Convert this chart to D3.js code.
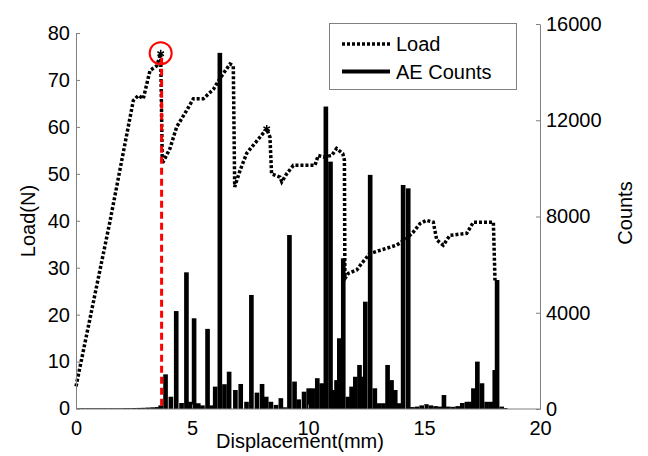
<!DOCTYPE html>
<html>
<head>
<meta charset="utf-8">
<script src="https://cdn.jsdelivr.net/npm/d3@7"></script>
<style>
  html, body { margin: 0; padding: 0; background: #fff; }
  svg { display: block; font-family: "Liberation Sans", Arial, sans-serif; }
</style>
</head>
<body>
<svg id="chart" width="648" height="456"></svg>
<script>
// LOAD CURVE (displacement mm, load N)
const loadDisp = [0, 1.47, 2.47, 2.69, 2.9, 3.19, 3.48, 3.65, 3.72, 4.05, 4.34, 4.77, 5.06, 5.49, 5.92,
  6.2, 6.64, 6.78, 6.84, 7.07, 7.36, 7.93, 8.22, 8.36, 8.43, 8.79, 8.87, 9.08, 9.37, 10.3, 10.44,
  10.66, 11.02, 11.23, 11.5, 11.57, 11.59, 11.74, 12.1, 12.31, 12.67, 13.1, 13.82, 14.25, 14.54,
  14.83, 15.1, 15.4, 15.55, 15.83, 16.12, 16.84, 17.13, 17.99, 18.06];
const loadForce = [4.7, 40, 65.6, 66.7, 66, 72, 73, 75.6, 52.2, 55.4, 60, 63.5, 66, 66, 68,
  70.3, 73.4, 73, 47.2, 50.7, 54.4, 57.8, 59.6, 57.8, 50, 49.3, 48.3, 50, 51.8, 51.8, 53.9,
  53.6, 53.9, 55.4, 54.3, 52.9, 27.7, 28.8, 29.5, 30.9, 33, 33.7, 34.8, 36.2, 37.6,
  39.4, 40.1, 39.7, 35.9, 34.8, 36.9, 37.3, 39.7, 39.7, 27.3];

// PEAK MARKERS
const markDisp = [3.65, 8.22];
const markForce = [75.6, 59.6];
const failureDisp = 3.69;

// AE COUNTS (bin centre mm, counts)
const aeDisp = [0.1, 0.3, 0.5, 0.7, 0.9, 1.1, 1.3, 1.5, 1.7, 1.9, 2.1, 2.3, 2.5, 2.7, 2.9, 3.1, 3.3, 3.5,
  3.65, 3.86, 4.09, 4.32, 4.55, 4.76, 4.93, 5.09, 5.27, 5.45, 5.67, 5.85,
  6.0, 6.2, 6.4, 6.6, 6.87, 7.1, 7.35, 7.56, 7.8, 8.02,
  8.2, 8.4, 8.62, 8.83, 9.0, 9.2, 9.42, 9.6, 9.83, 10.03,
  10.2, 10.4, 10.59, 10.77, 10.97, 11.12, 11.23, 11.35, 11.52, 11.72,
  11.88, 12.04, 12.22, 12.35, 12.47, 12.68, 12.88, 13.05, 13.25, 13.43,
  13.6, 13.76, 13.92, 14.1, 14.32, 14.5, 14.7, 14.9, 15.1, 15.3,
  15.5, 15.7, 15.86, 16.05, 16.25, 16.45, 16.65, 16.85, 17.0, 17.13,
  17.3, 17.5, 17.7, 17.9, 18.05, 18.15, 18.35, 18.5];
const aeCounts = [30, 30, 30, 30, 30, 30, 30, 30, 30, 30, 35, 35, 40, 45, 50, 60, 70, 80,
  150, 1440, 510, 4070, 250, 5680, 300, 3770, 240, 150, 3330, 150,
  930, 14800, 1030, 1550, 790, 1040, 300, 4740, 680, 1040,
  510, 300, 170, 450, 70, 7230, 1140, 400, 720, 860,
  860, 1280, 1070, 12570, 10280, 790, 1200, 2940, 6260, 510,
  930, 1340, 1830, 1340, 4460, 9730, 860, 240, 240, 1830,
  1200, 790, 240, 9310, 9170, 80, 100, 150, 200, 150,
  120, 100, 580, 100, 90, 120, 250, 300, 300, 860,
  1970, 1070, 300, 300, 1620, 5360, 100, 40];

// TICKS
const xTicks = [0, 5, 10, 15, 20];
const loadTicks = [0, 10, 20, 30, 40, 50, 60, 70, 80];
const countTicks = [0, 4000, 8000, 12000, 16000];

const svg = d3.select('#chart');
const axisColor = '#808080';
const dotted = '3,2';

const x = d3.scaleLinear().domain([0, 20]).range([76, 540]);
const yLoad = d3.scaleLinear().domain([0, 80]).range([408.5, 33]);
const yCount = d3.scaleLinear().domain([0, 16000]).range([409, 24]);

// AE BARS
const binW = 0.2;
svg.append('g')
  .selectAll('rect')
  .data(aeDisp.map((d, i) => ({ d, c: aeCounts[i] })))
  .enter().append('rect')
  .attr('x', p => x(p.d - binW / 2))
  .attr('width', x(binW) - x(0))
  .attr('y', p => yCount(p.c))
  .attr('height', p => yCount(0) - yCount(p.c))
  .attr('fill', '#000');

// LOAD LINE
const loadLine = d3.line()
  .x(i => x(loadDisp[i]))
  .y(i => yLoad(loadForce[i]));
svg.append('path')
  .attr('d', loadLine(d3.range(loadDisp.length)))
  .attr('fill', 'none')
  .attr('stroke', '#000')
  .attr('stroke-width', 3.5)
  .attr('stroke-dasharray', dotted);

// MARKERS ON PEAKS
const starType = d3.symbolAsterisk || d3.symbolCross;
svg.append('g')
  .selectAll('path')
  .data(markDisp.map((d, i) => ({ d, f: markForce[i] })))
  .enter().append('path')
  .attr('transform', p => `translate(${x(p.d)},${yLoad(p.f)})`)
  .attr('d', d3.symbol().type(starType).size(40))
  .attr('fill', 'none')
  .attr('stroke', '#000')
  .attr('stroke-width', 1.5);

// FAILURE POINT (RED)
svg.append('line')
  .attr('x1', x(failureDisp)).attr('x2', x(failureDisp))
  .attr('y1', yLoad(markForce[0]) + 4).attr('y2', yLoad(0))
  .attr('stroke', '#ff0000')
  .attr('stroke-width', 3)
  .attr('stroke-dasharray', '7,4');
svg.append('circle')
  .attr('cx', x(markDisp[0]))
  .attr('cy', yLoad(markForce[0]) - 0.5)
  .attr('r', 11)
  .attr('fill', 'none')
  .attr('stroke', '#ff0000')
  .attr('stroke-width', 2);

// AXES
function styleAxis(g, size) {
  g.select('.domain').attr('stroke', axisColor);
  g.selectAll('.tick line').attr('stroke', axisColor);
  g.selectAll('.tick text')
    .attr('fill', '#000')
    .style('font-size', size + 'px')
    .style('font-family', '"Liberation Sans", Arial, sans-serif');
}

svg.append('g')
  .attr('transform', `translate(0,${yLoad(0)})`)
  .call(d3.axisBottom(x).tickValues(xTicks).tickSize(-4).tickSizeOuter(0).tickPadding(12))
  .call(g => styleAxis(g, 20));

svg.append('g')
  .attr('transform', `translate(${x(0)},0)`)
  .call(d3.axisLeft(yLoad).tickValues(loadTicks).tickSize(-4).tickSizeOuter(0).tickPadding(6))
  .call(g => styleAxis(g, 20));

svg.append('g')
  .attr('transform', `translate(${x(20)},0)`)
  .call(d3.axisRight(yCount).tickValues(countTicks).tickFormat(d3.format('d'))
    .tickSize(-4).tickSizeOuter(0).tickPadding(6))
  .call(g => styleAxis(g, 20));

// AXIS LABELS
svg.append('text')
  .attr('x', 300).attr('y', 448)
  .attr('text-anchor', 'middle')
  .style('font-size', '20px')
  .text('Displacement(mm)');
svg.append('text')
  .attr('transform', 'translate(35,221) rotate(-90)')
  .attr('text-anchor', 'middle')
  .style('font-size', '20px')
  .text('Load(N)');
svg.append('text')
  .attr('transform', 'translate(632,213) rotate(-90)')
  .attr('text-anchor', 'middle')
  .style('font-size', '20px')
  .text('Counts');

// LEGEND
const legend = svg.append('g');
legend.append('rect')
  .attr('x', 329.5).attr('y', 23.5)
  .attr('width', 187).attr('height', 66)
  .attr('fill', '#fff')
  .attr('stroke', axisColor)
  .attr('stroke-width', 1);
legend.append('line')
  .attr('x1', 342).attr('x2', 390).attr('y1', 44).attr('y2', 44)
  .attr('stroke', '#000').attr('stroke-width', 3.5).attr('stroke-dasharray', dotted);
legend.append('line')
  .attr('x1', 342).attr('x2', 390).attr('y1', 71.5).attr('y2', 71.5)
  .attr('stroke', '#000').attr('stroke-width', 4);
legend.append('text')
  .attr('x', 396).attr('y', 51)
  .style('font-size', '20px')
  .text('Load');
legend.append('text')
  .attr('x', 396).attr('y', 79)
  .style('font-size', '20px')
  .text('AE Counts');
</script>
</body>
</html>
